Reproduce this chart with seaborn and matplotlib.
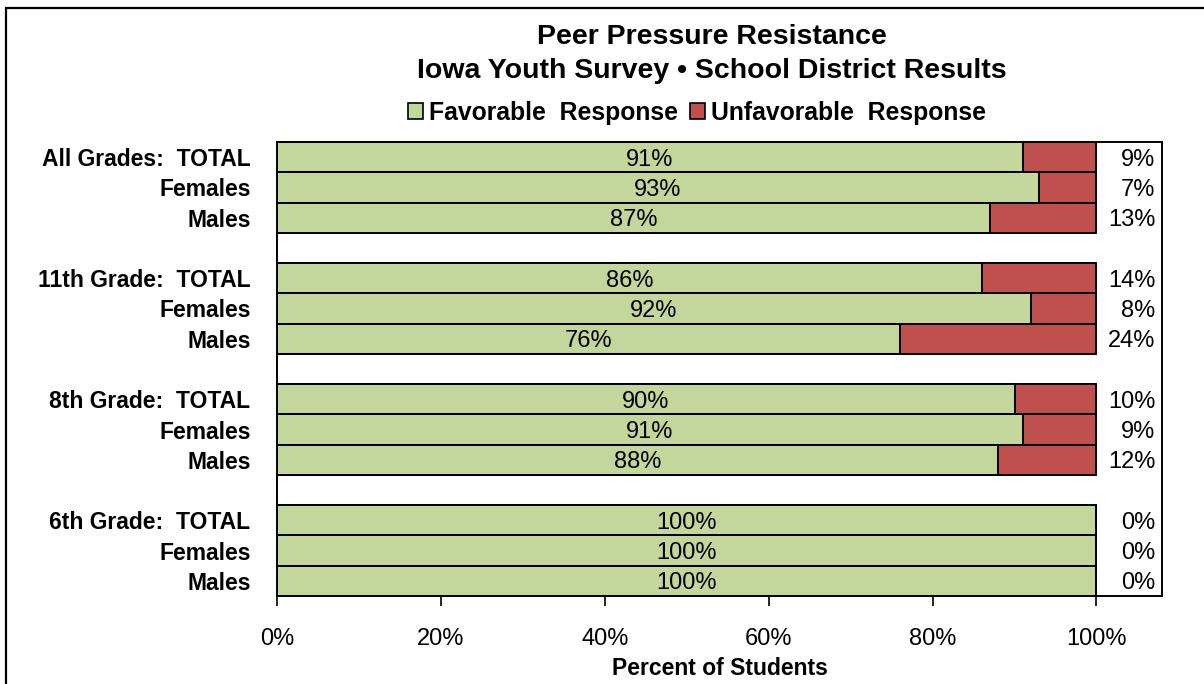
import pandas as pd
import matplotlib.pyplot as plt
import seaborn as sns
from matplotlib.patches import Patch, Rectangle

sns.set_theme(style='white')
plt.rcParams['font.family'] = ['Liberation Sans', 'DejaVu Sans']
plt.rcParams['text.color'] = 'black'
plt.rcParams['xtick.color'] = 'black'
plt.rcParams['ytick.color'] = 'black'
plt.rcParams['axes.labelcolor'] = 'black'

# data (12 bars in 4 groups)
groups = ["All Grades", "11th Grade", "8th Grade", "6th Grade"]
subgroups = ["TOTAL", "Females", "Males"]
favorable = [91, 93, 87, 86, 92, 76, 90, 91, 88, 100, 100, 100]
unfavorable = [9, 7, 13, 14, 8, 24, 10, 9, 12, 0, 0, 0]

GREEN = "#C3D69B"
RED = "#C0504D"

# build rows, with empty spacer rows between the groups
rows, labels, fav, unfav = [], [], [], []
k = 0
for gi, g in enumerate(groups):
    for s in subgroups:
        rows.append(f"r{len(rows)}")
        labels.append(f"{g}:  {s}" if s == "TOTAL" else s)
        fav.append(favorable[k])
        unfav.append(unfavorable[k])
        k += 1
    if gi < len(groups) - 1:
        rows.append(f"r{len(rows)}")
        labels.append("")
        fav.append(None)
        unfav.append(None)

df = pd.DataFrame({"row": rows, "label": labels, "Favorable": fav, "Unfavorable": unfav})
df["Total"] = df["Favorable"] + df["Unfavorable"]
bars = df.dropna()

fig = plt.figure(figsize=(12.04, 6.84), dpi=100)
ax = fig.add_axes([277 / 1204, 1 - 596 / 684, (1162 - 277) / 1204, (596 - 142) / 684])

# stacked look: full bar in red, favorable part drawn over it in green
sns.barplot(data=bars, y="row", x="Total", order=rows, color=RED, saturation=1,
            width=1.0, edgecolor="black", linewidth=1.4, ax=ax, orient="h")
sns.barplot(data=bars, y="row", x="Favorable", order=rows, color=GREEN, saturation=1,
            width=1.0, edgecolor="black", linewidth=1.4, ax=ax, orient="h")

ax.set_xlim(0, 108)
ax.set_ylim(len(rows) - 0.5, -0.5)
ax.set_xticks([0, 20, 40, 60, 80, 100])
ax.set_xticklabels([f"{t}%" for t in [0, 20, 40, 60, 80, 100]], fontsize=17)
ax.set_yticks(range(len(rows)))
ax.set_yticklabels(labels, fontsize=16.5, fontweight="bold")
ax.tick_params(axis="x", direction="out", length=7, width=1.2, pad=16, bottom=True)
ax.tick_params(axis="y", length=0, pad=19)
ax.set_ylabel("")
ax.set_xlabel("Percent of Students", fontsize=16.5, fontweight="bold", labelpad=5)
for sp in ax.spines.values():
    sp.set_color("black")
    sp.set_linewidth(1.4)

# value labels
for i, r in enumerate(rows):
    row = df.iloc[i]
    if pd.isna(row["Favorable"]):
        continue
    ax.text(row["Favorable"] / 2, i + 0.08, f"{int(row['Favorable'])}%", ha="center",
            va="center", fontsize=17)
    ax.text(107.2, i + 0.08, f"{int(row['Unfavorable'])}%", ha="right", va="center",
            fontsize=17)

fig.text(712 / 1204, 1 - 37 / 684, "Peer Pressure Resistance", ha="center", va="center",
         fontsize=20.5, fontweight="bold")
fig.text(712 / 1204, 1 - 71 / 684, "Iowa Youth Survey \u2022 School District Results",
         ha="center", va="center", fontsize=20.5, fontweight="bold")

handles = [Patch(facecolor=GREEN, edgecolor="black", linewidth=1.2, label="Favorable  Response"),
           Patch(facecolor=RED, edgecolor="black", linewidth=1.2, label="Unfavorable  Response")]
fig.legend(handles=handles, loc="center", bbox_to_anchor=(697 / 1204, 1 - 113 / 684), ncol=2,
           frameon=False, prop={"size": 17.8, "weight": "bold"}, handlelength=0.6,
           handleheight=0.6, handletextpad=0.25, columnspacing=0.5)

# outer chart border (extends past the crop)
fig.patches.append(Rectangle((6 / 1204, -0.2), 1.2, 1.2 - 8 / 684, transform=fig.transFigure,
                             fill=False, edgecolor="black", linewidth=1.6))

fig.savefig("out.png", dpi=100)
